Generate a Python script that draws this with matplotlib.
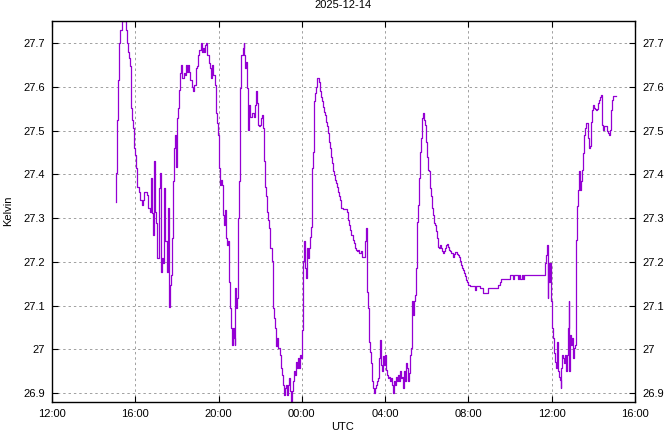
import numpy as np
import pandas as pd
import matplotlib
matplotlib.use("Agg")
import matplotlib.pyplot as plt
import matplotlib.dates as mdates

plt.rcParams["font.family"] = ["Liberation Sans", "DejaVu Sans"]

# minutes after 2025-12-13 12:00 UTC
minutes = [
    184, 185, 188, 191, 194, 197, 201, 212, 215, 218, 221, 225, 228, 230, 233, 236, 239, 242, 245, 251,
    255, 258, 261, 266, 273, 277, 282, 285, 288, 292, 295, 298, 301, 304, 307, 311, 314, 317, 321, 323,
    326, 330, 333, 336, 338, 341, 344, 347, 349, 352, 355, 358, 359, 362, 365, 368, 370, 373, 376, 379,
    382, 385, 388, 392, 395, 399, 402, 405, 409,
    412, 415, 417, 420, 423, 428, 431, 435, 438, 441, 444, 448, 451, 454, 457, 460, 463, 469, 473, 476,
    479, 482, 484, 487, 491, 494, 496, 499, 502, 505, 508, 510, 513, 516, 518, 521, 524, 526, 528, 531,
    533, 535, 538, 541, 543, 546, 549, 552, 554, 557, 559, 562, 565, 566, 568, 571, 575, 579, 582, 585,
    588, 590, 593, 596, 599, 601, 604, 607, 610, 613, 615, 617, 620, 623, 626, 629, 633, 636, 638, 641,
    644, 646, 649, 652,
    657, 659, 662, 665, 668, 671, 674, 678, 680, 683, 686, 689, 692, 695, 698, 701, 704, 706, 709, 712,
    715, 718, 721, 724, 727, 730, 732, 735, 738, 741, 744, 747, 750, 752, 755, 758, 761, 764, 767, 770,
    773, 776, 778, 781, 784, 787, 790, 793, 796, 799, 802, 804, 807, 810, 813, 816, 819, 822, 825, 827,
    830, 833, 839, 848, 851, 854, 857, 860, 863, 866, 869, 872, 874, 877, 880, 883, 886, 889, 892, 901,
    903, 906, 907, 908, 910, 913, 916,
    919, 922, 924, 927, 930, 933, 936, 939, 942, 945, 947, 950, 953, 956, 959, 962, 965, 968, 970, 973,
    976, 979, 982, 985, 988, 991, 994, 996, 999, 1002, 1005, 1008, 1011, 1014, 1017, 1019, 1022, 1025,
    1028, 1031, 1034, 1037, 1040, 1043, 1045, 1048, 1051, 1054, 1057, 1060, 1063, 1065, 1067, 1069,
    1071, 1074, 1077, 1080, 1083, 1086, 1089, 1092, 1094, 1097, 1100, 1103, 1106, 1109, 1112, 1115,
    1117, 1120, 1123, 1126, 1129, 1132, 1135, 1138, 1140, 1143, 1146, 1149, 1152, 1155, 1158,
    1161, 1164, 1166, 1169, 1172, 1175, 1178, 1181, 1184, 1187, 1189, 1192, 1195, 1199, 1204, 1219,
    1222, 1232, 1242, 1257, 1285, 1290, 1295, 1319, 1329, 1332, 1343, 1346, 1350, 1354, 1357, 1360,
    1420, 1423, 1426, 1428, 1429, 1431, 1434, 1437, 1439, 1441, 1443, 1446, 1449, 1452, 1454, 1457,
    1460, 1463, 1466, 1468, 1470, 1473, 1476, 1478, 1481, 1484, 1487, 1489, 1491, 1493, 1496, 1499,
    1501, 1504, 1507, 1509, 1511, 1514, 1517, 1519, 1522, 1524, 1527, 1530, 1533, 1536, 1539, 1542,
    1545, 1548, 1550, 1553, 1556, 1559, 1562, 1565, 1568, 1571, 1573, 1576, 1579, 1582, 1585, 1588,
    1591, 1600, 1603, 1606, 1609, 1612, 1615, 1618, 1626,
]

kelvin = [
    27.338, 27.403, 27.525, 27.616, 27.700, 27.730, 27.750, 27.730, 27.700, 27.680, 27.666, 27.647,
    27.551, 27.525, 27.506, 27.460, 27.445, 27.414, 27.372, 27.361, 27.342, 27.330, 27.342, 27.361,
    27.353, 27.323, 27.315, 27.391, 27.311, 27.262, 27.430, 27.315, 27.289, 27.209, 27.369, 27.403,
    27.178, 27.209, 27.197, 27.369, 27.247, 27.178, 27.323, 27.132, 27.098, 27.148, 27.170, 27.254,
    27.384, 27.460, 27.490, 27.418, 27.529, 27.551, 27.593, 27.612, 27.631, 27.650, 27.620, 27.631,
    27.628, 27.650, 27.635, 27.650, 27.635, 27.616, 27.601, 27.590, 27.605,
    27.605, 27.643, 27.647, 27.673, 27.685, 27.700, 27.681, 27.689, 27.681, 27.696, 27.700, 27.673,
    27.654, 27.643, 27.620, 27.650, 27.628, 27.605, 27.540, 27.517, 27.490, 27.414, 27.376, 27.388,
    27.376, 27.308, 27.285, 27.319, 27.254, 27.239, 27.247, 27.155, 27.094, 27.049, 27.010, 27.049,
    27.026, 27.010, 27.140, 27.094, 27.117, 27.300, 27.384, 27.540, 27.597, 27.673, 27.689, 27.700,
    27.673, 27.643, 27.658, 27.597, 27.586, 27.502, 27.559, 27.532, 27.540, 27.540, 27.532, 27.559,
    27.590, 27.563, 27.513, 27.510, 27.513, 27.529, 27.536, 27.506, 27.430, 27.399, 27.372, 27.350,
    27.315, 27.296, 27.277, 27.231, 27.201, 27.136, 27.094, 27.071, 27.049, 27.007, 27.026, 27.003,
    26.988, 26.957, 26.942, 26.919, 26.896, 26.911, 26.919, 26.896, 26.919, 26.934, 26.904, 26.882,
    26.904, 26.927, 26.950, 26.942, 26.972, 26.957, 26.980, 26.957, 26.988, 26.980, 27.045, 27.201,
    27.247, 27.186, 27.163, 27.231, 27.209, 27.231, 27.258, 27.281, 27.414, 27.452, 27.567, 27.586,
    27.601, 27.620, 27.620, 27.612, 27.590, 27.578, 27.567, 27.555, 27.544, 27.536, 27.521, 27.510,
    27.494, 27.475, 27.460, 27.441, 27.426, 27.407, 27.399, 27.388, 27.380, 27.372, 27.361, 27.350,
    27.342, 27.323, 27.321, 27.321, 27.315, 27.296, 27.285, 27.273, 27.262, 27.250, 27.243, 27.235,
    27.231, 27.228, 27.224, 27.228, 27.220, 27.224, 27.212, 27.212, 27.247, 27.277, 27.212, 27.132,
    27.094, 27.018, 26.995,
    26.969, 26.927, 26.911, 26.900, 26.911, 26.919, 26.927, 26.934, 26.980, 27.022, 26.965, 26.950,
    26.984, 26.965, 26.988, 26.953, 26.942, 26.934, 26.938, 26.927, 26.934, 26.919, 26.900, 26.927,
    26.919, 26.938, 26.927, 26.942, 26.927, 26.950, 26.934, 26.938, 26.911, 26.950, 26.927, 26.969,
    26.957, 26.927, 26.946, 26.988, 27.003, 27.110, 27.079, 27.110, 27.125, 27.186, 27.292, 27.330,
    27.391, 27.452, 27.483, 27.506, 27.529, 27.540, 27.525, 27.513, 27.475, 27.441, 27.410, 27.407,
    27.369, 27.350, 27.323, 27.308, 27.289, 27.285, 27.270, 27.254, 27.235, 27.231, 27.239, 27.231,
    27.224, 27.220, 27.224, 27.231, 27.239, 27.241, 27.235, 27.228, 27.224, 27.220, 27.220, 27.212,
    27.218,
    27.222, 27.222, 27.218, 27.215, 27.212, 27.201, 27.193, 27.186, 27.182, 27.174, 27.167, 27.159,
    27.155, 27.147, 27.145, 27.135, 27.145, 27.140, 27.129, 27.140, 27.148, 27.155, 27.160, 27.170,
    27.160, 27.170, 27.160, 27.170, 27.160, 27.170, 27.160, 27.170,
    27.197, 27.216, 27.239, 27.117, 27.197, 27.155, 27.197, 27.148, 27.110, 27.049, 27.026, 26.991,
    26.972, 26.957, 27.018, 26.950, 26.938, 26.930, 26.911, 26.957, 26.988, 26.980, 26.969, 26.988,
    26.950, 26.988, 27.049, 27.110, 26.950, 27.033, 27.010, 27.026, 26.980, 27.003, 27.010, 27.155,
    27.250, 27.327, 27.365, 27.407, 27.365, 27.384, 27.410, 27.449, 27.490, 27.506, 27.517, 27.517,
    27.483, 27.460, 27.464, 27.521, 27.548, 27.559, 27.552, 27.549, 27.548, 27.549, 27.563, 27.571,
    27.578, 27.582, 27.513, 27.502, 27.510, 27.500, 27.494, 27.490, 27.502, 27.548, 27.571, 27.580,
    27.580,
]

y_ticks = [26.9, 27.0, 27.1, 27.2, 27.3, 27.4, 27.5, 27.6, 27.7]
y_labels = ["26.9", "27", "27.1", "27.2", "27.3", "27.4", "27.5", "27.6", "27.7"]

t0 = pd.Timestamp("2025-12-13 12:00")
times = t0 + pd.to_timedelta(minutes, unit="min")
x_ticks = pd.date_range(t0, periods=8, freq="4h")

fig = plt.figure(figsize=(6.64, 4.32), dpi=100)
ax = fig.add_axes([52 / 664, 1 - 402.3 / 432, (635 - 52) / 664, (402.3 - 21) / 432])

ax.step(times, kelvin, where="post", color="#9400d3", lw=0.9)

ax.set_xlim(x_ticks[0], x_ticks[-1])
ax.set_ylim(26.879, 27.751)
ax.set_xticks(x_ticks)
ax.xaxis.set_major_formatter(mdates.DateFormatter("%H:%M"))
ax.set_yticks(y_ticks)
ax.set_yticklabels(y_labels)

ax.grid(True, color="#a0a0a0", linestyle=(0, (2.5, 3)), lw=0.7)
ax.tick_params(direction="in", length=4, width=0.8, labelsize=8,
               top=True, right=True, labelright=True)
ax.tick_params(axis="y", pad=5)
ax.tick_params(axis="x", pad=5)
for s in ax.spines.values():
    s.set_linewidth(1.0)

fig.text(343 / 664, 1 - 427 / 432, "UTC", fontsize=8, ha="center", va="center")
fig.text(8 / 664, 1 - 211 / 432, "Kelvin", fontsize=8, ha="center", va="center", rotation=90)
fig.text(343 / 664, 1 - 5 / 432, "2025-12-14", fontsize=8, ha="center", va="center")

fig.savefig("out.png", dpi=100)
